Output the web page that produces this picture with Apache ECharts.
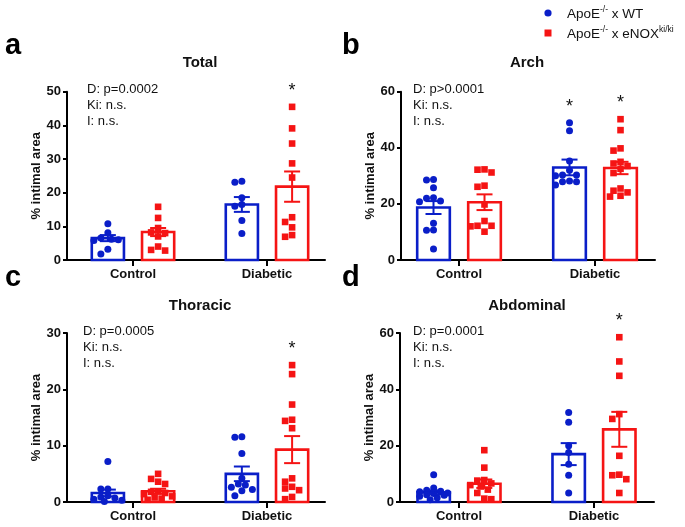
<!DOCTYPE html>
<html><head><meta charset="utf-8">
<script src="https://cdn.jsdelivr.net/npm/echarts@6/dist/echarts.min.js"></script>
<style>html,body{margin:0;padding:0;background:#fff}#c{width:685px;height:527px}</style>
</head><body><div id="c"></div>
<script>
// ---------------- DATA ----------------
const groups = ['Control', 'Diabetic'];
const seriesNames = ['WT', 'eNOX'];
const panelTitles = ['Total', 'Arch', 'Thoracic', 'Abdominal'];
const panelLetters = ['a', 'b', 'c', 'd'];
const statLines = [
  ['D: p=0.0002', 'Ki: n.s.', 'I: n.s.'],
  ['D: p>0.0001', 'Ki: n.s.', 'I: n.s.'],
  ['D: p=0.0005', 'Ki: n.s.', 'I: n.s.'],
  ['D: p=0.0001', 'Ki: n.s.', 'I: n.s.']
];
const yMax = [50, 60, 30, 60];
const yStep = [10, 20, 10, 20];

// individual animals (% intimal area)
const totalCtrlWT = [10.8, 8.1, 6.5, 6.2, 6.0, 5.8, 3.2, 1.8];
const totalCtrlENOX = [15.8, 12.5, 9.5, 8.2, 8.0, 7.0, 4.0, 3.0, 2.8];
const totalDiabWT = [23.4, 23.1, 18.5, 16.5, 16.0, 11.7, 7.9];
const totalDiabENOX = [45.5, 39.1, 34.6, 28.7, 24.5, 12.7, 11.3, 9.7, 7.4, 6.9];

const archCtrlWT = [28.7, 28.5, 25.8, 22.2, 22.0, 21.0, 20.8, 13.1, 10.7, 10.6, 3.9];
const archCtrlENOX = [32.3, 32.2, 31.2, 26.5, 26.1, 19.8, 13.9, 12.2, 12.2, 12.0, 10.1];
const archDiabWT = [48.9, 46.1, 35.3, 32.0, 30.3, 30.3, 30.0, 28.2, 27.9, 27.9, 26.7];
const archDiabENOX = [50.2, 46.3, 39.8, 39.0, 35.0, 34.4, 33.5, 32.5, 31.0, 25.5, 24.7, 24.1, 22.9, 22.6];

const thorCtrlWT = [7.2, 2.3, 2.3, 1.1, 0.9, 0.7, 0.5, 0.3, 0.1];
const thorCtrlENOX = [5.0, 4.1, 3.6, 3.2, 1.9, 1.8, 1.6, 1.4, 1.0, 0.8, 0.6, 0.4];
const thorDiabWT = [11.6, 11.5, 8.6, 4.2, 3.2, 3.0, 2.6, 2.2, 2.0, 1.1];
const thorDiabENOX = [24.3, 22.7, 17.3, 14.6, 14.4, 13.1, 4.2, 3.6, 2.7, 2.4, 2.1, 0.9, 0.5];

const abdCtrlWT = [9.7, 5.0, 4.2, 3.8, 3.6, 3.2, 3.0, 2.6, 2.4, 2.0, 1.5, 0.8];
const abdCtrlENOX = [18.4, 12.2, 7.8, 7.6, 6.6, 6.0, 5.5, 4.4, 3.2, 1.2, 1.0];
const abdDiabWT = [31.8, 28.3, 20.0, 17.6, 13.4, 9.5, 3.2];
const abdDiabENOX = [58.5, 49.9, 44.8, 31.2, 29.5, 16.4, 9.7, 9.5, 8.1, 3.2];

// bar heights (mean) and SEM, order: Ctrl-WT, Ctrl-eNOX, Diab-WT, Diab-eNOX
const totalMeans = [6.5, 8.3, 16.5, 21.8];
const totalSems = [0.9, 1.2, 2.2, 4.5];
const archMeans = [18.7, 20.6, 33.0, 32.8];
const archSems = [2.3, 2.8, 2.8, 2.2];
const thorMeans = [1.6, 1.9, 5.0, 9.3];
const thorSems = [0.6, 0.45, 1.3, 2.4];
const abdMeans = [3.4, 6.5, 17.0, 25.8];
const abdSems = [0.7, 1.5, 3.9, 6.2];

// significance stars: [group index, series index]
const totalStars = [[1, 1]];
const archStars = [[1, 0], [1, 1]];
const thorStars = [[1, 1]];
const abdStars = [[1, 1]];

const panelPoints = [
  [[totalCtrlWT, totalCtrlENOX], [totalDiabWT, totalDiabENOX]],
  [[archCtrlWT, archCtrlENOX], [archDiabWT, archDiabENOX]],
  [[thorCtrlWT, thorCtrlENOX], [thorDiabWT, thorDiabENOX]],
  [[abdCtrlWT, abdCtrlENOX], [abdDiabWT, abdDiabENOX]]
];
const panelMeans = [totalMeans, archMeans, thorMeans, abdMeans];
const panelSems = [totalSems, archSems, thorSems, abdSems];
const panelStars = [totalStars, archStars, thorStars, abdStars];

// ---------------- LAYOUT / STYLE ----------------
const FONT = '"Liberation Sans", Arial, Helvetica, sans-serif';
const colors = ['#0a1ec8', '#f51414'];
const groupX = [1, 3];
const seriesOff = [-0.375, 0.375];
const barHalf = 0.24;
const layout = [
  {left: 67, top: 91.7, width: 258, height: 168.3, xMin: 0.015, xMax: 3.866, statX: 87, statY: 89, titleX: 200, titleY: 63, letterX: 5, letterTop: 31},
  {left: 401, top: 91.7, width: 254, height: 168.3, xMin: 0.147, xMax: 3.882, statX: 413, statY: 89, titleX: 527, titleY: 63, letterX: 342, letterTop: 31},
  {left: 67, top: 333, width: 258, height: 169, xMin: 0.015, xMax: 3.866, statX: 83, statY: 331, titleX: 200, titleY: 306, letterX: 5, letterTop: 263},
  {left: 400, top: 333, width: 254, height: 169, xMin: 0.126, xMax: 3.889, statX: 413, statY: 331, titleX: 527, titleY: 306, letterX: 342, letterTop: 263}
];

function swarm(values, pxPerY, step, minD, maxOff) {
  const order = values.map((v, i) => i).sort((a, b) => values[b] - values[a]);
  const placed = [];
  const offs = new Array(values.length).fill(0);
  for (const i of order) {
    const y = values[i] * pxPerY;
    let chosen = null, bestCand = 0, bestD = -1;
    for (let k = 0; k < 60; k++) {
      const cand = k === 0 ? 0 : (k % 2 ? -1 : 1) * Math.ceil(k / 2) * step / 2;
      if (Math.abs(cand) > maxOff) break;
      let dmin = Infinity;
      for (const p of placed) dmin = Math.min(dmin, Math.hypot(p.x - cand, p.y - y));
      if (dmin >= minD) { chosen = cand; break; }
      if (dmin > bestD) { bestD = dmin; bestCand = cand; }
    }
    if (chosen === null) chosen = bestCand;
    placed.push({x: chosen, y});
    offs[i] = chosen;
  }
  return offs;
}

const grids = [], xAxes = [], yAxes = [], series = [], graphics = [];
layout.forEach((L, p) => {
  grids.push({left: L.left, top: L.top, width: L.width, height: L.height, containLabel: false, outerBoundsMode: 'none'});
  xAxes.push({
    gridIndex: p, type: 'value', min: L.xMin, max: L.xMax,
    axisLine: {show: true, onZero: false, lineStyle: {color: '#000', width: 2}},
    axisTick: {show: true, customValues: groupX, length: 6, lineStyle: {color: '#000', width: 2}},
    axisLabel: {show: true, customValues: groupX, margin: 8, color: '#111', fontFamily: FONT, fontWeight: 'bold', fontSize: 13,
      formatter: v => groups[groupX.indexOf(Math.round(v))] || ''},
    splitLine: {show: false}
  });
  yAxes.push({
    gridIndex: p, type: 'value', min: 0, max: yMax[p], interval: yStep[p],
    name: '% intimal area', nameLocation: 'middle', nameGap: 23, nameRotate: 90,
    nameTextStyle: {color: '#111', fontFamily: FONT, fontWeight: 'bold', fontSize: 13},
    axisLine: {show: true, lineStyle: {color: '#000', width: 2}},
    axisTick: {show: true, length: 4, lineStyle: {color: '#000', width: 2}},
    axisLabel: {margin: 6, color: '#111', fontFamily: FONT, fontWeight: 'bold', fontSize: 13},
    splitLine: {show: false}
  });

  const pxPerY = L.height / yMax[p];
  const pxPerX = L.width / (L.xMax - L.xMin);
  const means = panelMeans[p], sems = panelSems[p];
  const barData = [], errData = [];
  for (let g = 0; g < 2; g++) for (let s = 0; s < 2; s++) {
    barData.push([g, s, means[g * 2 + s]]);
    errData.push([g, s, means[g * 2 + s], sems[g * 2 + s]]);
  }
  series.push({
    type: 'custom', xAxisIndex: p, yAxisIndex: p, z: 1, silent: true, data: barData,
    encode: {x: 0, y: 2},
    renderItem: (params, api) => {
      const g = api.value(0), s = api.value(1), m = api.value(2);
      const xc = groupX[g] + seriesOff[s];
      const a = api.coord([xc - barHalf, m]), b = api.coord([xc + barHalf, 0]);
      return {type: 'rect', shape: {x: a[0], y: a[1], width: b[0] - a[0], height: b[1] - a[1]},
        style: {fill: '#fff', stroke: colors[s], lineWidth: 2.6}};
    }
  });
  for (let s = 0; s < 2; s++) {
    const data = [];
    for (let g = 0; g < 2; g++) {
      const vals = panelPoints[p][g][s];
      const offs = swarm(vals, pxPerY, 7, 6.6, 15);
      vals.forEach((v, i) => data.push([groupX[g] + seriesOff[s] + offs[i] / pxPerX, v]));
    }
    series.push({
      type: 'scatter', xAxisIndex: p, yAxisIndex: p, z: 2, silent: true, data,
      symbol: s === 0 ? 'circle' : 'rect', symbolSize: s === 0 ? 7 : 6.6,
      itemStyle: {color: colors[s], opacity: 1}
    });
  }
  series.push({
    type: 'custom', xAxisIndex: p, yAxisIndex: p, z: 3, silent: true, data: errData,
    encode: {x: 0, y: 2},
    renderItem: (params, api) => {
      const g = api.value(0), s = api.value(1), m = api.value(2), e = api.value(3);
      const xc = groupX[g] + seriesOff[s];
      const hi = api.coord([xc, m + e]), lo = api.coord([xc, m - e]);
      const cw = 8;
      const st = {stroke: colors[s], lineWidth: 2};
      return {type: 'group', children: [
        {type: 'line', shape: {x1: hi[0], y1: hi[1], x2: lo[0], y2: lo[1]}, style: st},
        {type: 'line', shape: {x1: hi[0] - cw, y1: hi[1], x2: hi[0] + cw, y2: hi[1]}, style: st},
        {type: 'line', shape: {x1: lo[0] - cw, y1: lo[1], x2: lo[0] + cw, y2: lo[1]}, style: st}
      ]};
    }
  });
  const starData = panelStars[p].map(([g, s]) => [g, s, Math.max(...panelPoints[p][g][s])]);
  series.push({
    type: 'custom', xAxisIndex: p, yAxisIndex: p, z: 4, silent: true, data: starData,
    encode: {x: 0, y: 2},
    renderItem: (params, api) => {
      const g = api.value(0), s = api.value(1), mx = api.value(2);
      const pt = api.coord([groupX[g] + seriesOff[s], mx]);
      return {type: 'text', x: pt[0], y: pt[1] - 16,
        style: {text: '*', fontFamily: FONT, fontSize: 18, fill: '#111', align: 'center', verticalAlign: 'middle'}};
    }
  });

  // texts
  graphics.push({type: 'text', x: L.letterX, y: L.letterTop,
    style: {text: panelLetters[p], fontFamily: FONT, fontWeight: 'bold', fontSize: 29, fill: '#000', align: 'left', verticalAlign: 'top'}});
  graphics.push({type: 'text', x: L.titleX, y: L.titleY,
    style: {text: panelTitles[p], fontFamily: FONT, fontWeight: 'bold', fontSize: 15, fill: '#111', align: 'center', verticalAlign: 'middle'}});
  statLines[p].forEach((t, i) => graphics.push({type: 'text', x: L.statX, y: L.statY + i * 16,
    style: {text: t, fontFamily: FONT, fontSize: 13, fill: '#111', align: 'left', verticalAlign: 'middle'}}));
});

// legend
const legendRows = [
  {y: 13, sup: '-/-', tail: ' x WT', tsup: ''},
  {y: 33, sup: '-/-', tail: ' x eNOX', tsup: 'ki/ki'}
];
legendRows.forEach((r, s) => {
  if (s === 0) graphics.push({type: 'circle', shape: {cx: 548, cy: r.y, r: 3.6}, style: {fill: colors[0]}});
  else graphics.push({type: 'rect', shape: {x: 544.5, y: r.y - 3.5, width: 7, height: 7}, style: {fill: colors[1]}});
  graphics.push({type: 'text', x: 567, y: r.y,
    style: {text: '{n|ApoE}{s|' + r.sup + '}{n|' + r.tail + '}' + (r.tsup ? '{s|' + r.tsup + '}' : ''),
      fontFamily: FONT, fontSize: 13.5, fill: '#111', align: 'left', verticalAlign: 'middle',
      rich: {n: {fontFamily: FONT, fontSize: 13.5, fill: '#111', lineHeight: 16, verticalAlign: 'bottom'},
             s: {fontFamily: FONT, fontSize: 8.5, fill: '#111', lineHeight: 16, verticalAlign: 'top'}}}});
});

const chart = echarts.init(document.getElementById('c'), null, {renderer: 'canvas', width: 685, height: 527});
chart.setOption({
  animation: false,
  backgroundColor: '#fff',
  grid: grids, xAxis: xAxes, yAxis: yAxes, series, graphic: graphics
});
</script>
</body></html>
